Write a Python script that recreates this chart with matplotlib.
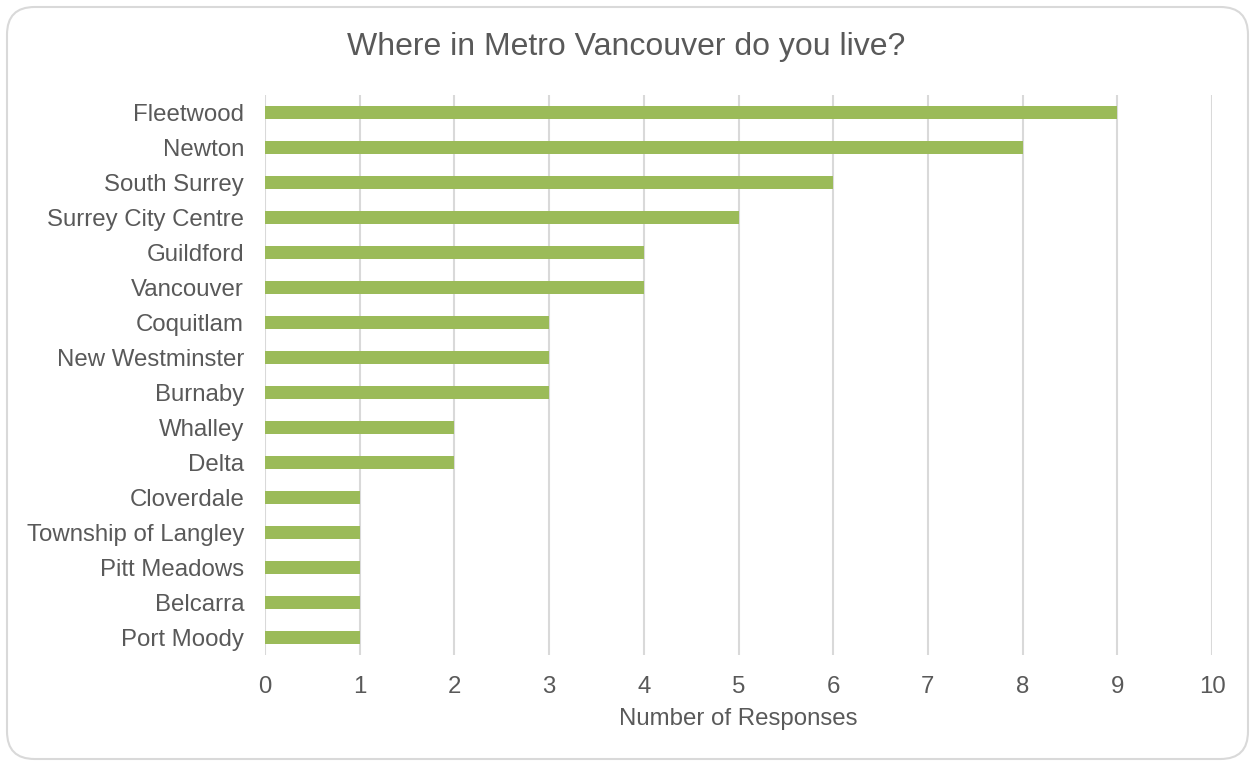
import matplotlib.pyplot as plt
from matplotlib.patches import FancyBboxPatch

plt.rcParams['font.family'] = ['Liberation Sans', 'DejaVu Sans']

# data (top to bottom as shown)
places = ["Fleetwood", "Newton", "South Surrey", "Surrey City Centre", "Guildford",
          "Vancouver", "Coquitlam", "New Westminster", "Burnaby", "Whalley", "Delta",
          "Cloverdale", "Township of Langley", "Pitt Meadows", "Belcarra", "Port Moody"]
responses = [9, 8, 6, 5, 4, 4, 3, 3, 3, 2, 2, 1, 1, 1, 1, 1]

text_col = "#595959"
bar_col = "#9BBB59"
grid_col = "#D9D9D9"

fig = plt.figure(figsize=(12.53, 7.61), dpi=100)
ax = fig.add_axes([0.2115, 0.139, 0.7558, 0.736])

# rounded frame around the chart
W, H = 1253, 761
frame = FancyBboxPatch((7 / W, 2 / H), 1241 / W, 1 - 9 / H,
                       boxstyle="round,pad=0,rounding_size=0.022",
                       transform=fig.transFigure, facecolor="white",
                       edgecolor="#D9D9D9", linewidth=1.5, zorder=-10,
                       mutation_aspect=W / H)
fig.patches.append(frame)

ypos = list(range(len(places)))[::-1]
ax.barh(ypos, responses, height=0.37, color=bar_col, zorder=3)

ax.set_xlim(0, 10)
ax.set_ylim(-0.5, len(places) - 0.5)
ax.set_xticks(range(0, 11))
ax.set_yticks(ypos)
ax.set_yticklabels(places)
ax.grid(axis="x", color=grid_col, linewidth=1.5, zorder=0)
for s in ax.spines.values():
    s.set_visible(False)
ax.tick_params(axis="both", length=0, labelsize=17.3, colors=text_col)
ax.tick_params(axis="y", pad=15)
ax.tick_params(axis="x", pad=15)
ax.set_facecolor("none")

ax.set_xlabel("Number of Responses", fontsize=17.3, color=text_col, labelpad=7)
fig.text(0.5, 1 - 47 / H, "Where in Metro Vancouver do you live?",
         ha="center", va="center", fontsize=23, color=text_col)

fig.savefig("out.png", dpi=100)
